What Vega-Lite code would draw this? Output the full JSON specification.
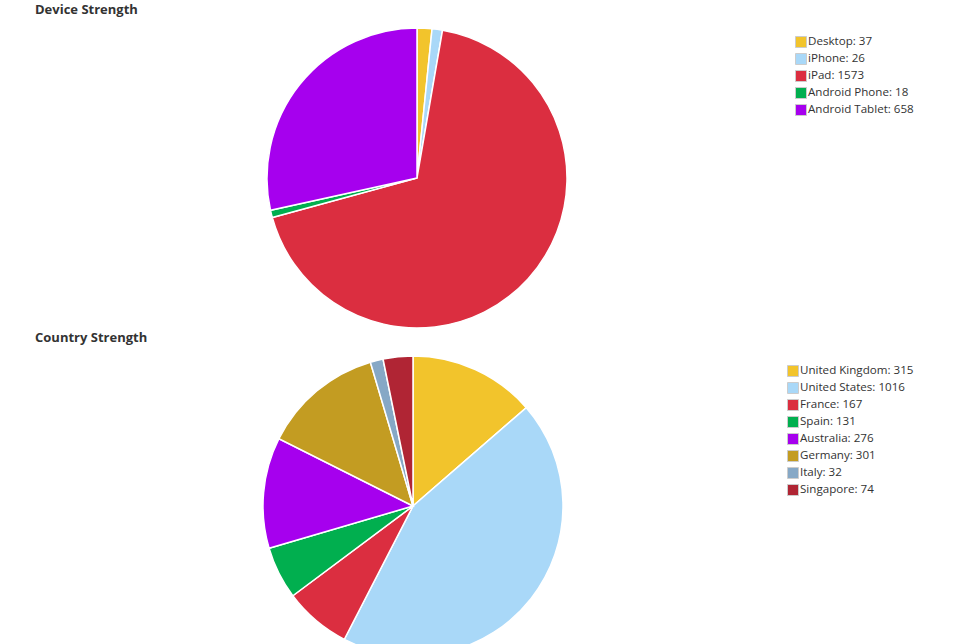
{
  "$schema": "https://vega.github.io/schema/vega-lite/v6.json",
  "padding": {"left": 35, "top": 4, "right": 0, "bottom": 0},
  "background": "white",
  "datasets": {
    "device": [
      {"name": "Desktop", "value": 37, "rank": 1},
      {"name": "iPhone", "value": 26, "rank": 2},
      {"name": "iPad", "value": 1573, "rank": 3},
      {"name": "Android Phone", "value": 18, "rank": 4},
      {"name": "Android Tablet", "value": 658, "rank": 5}
    ],
    "country": [
      {"name": "United Kingdom", "value": 315, "rank": 1},
      {"name": "United States", "value": 1016, "rank": 2},
      {"name": "France", "value": 167, "rank": 3},
      {"name": "Spain", "value": 131, "rank": 4},
      {"name": "Australia", "value": 276, "rank": 5},
      {"name": "Germany", "value": 301, "rank": 6},
      {"name": "Italy", "value": 32, "rank": 7},
      {"name": "Singapore", "value": 74, "rank": 8}
    ]
  },
  "config": {
    "view": {"stroke": null},
    "font": "Open Sans",
    "title": {"anchor": "start", "frame": "group", "offset": 8, "fontSize": 13, "font": "Open Sans", "fontWeight": "bold", "color": "#333333"},
    "legend": {
      "title": null,
      "symbolType": "square",
      "symbolSize": 121,
      "symbolStrokeColor": "#cccccc",
      "symbolStrokeWidth": 1,
      "symbolOpacity": 1,
      "labelFont": "Open Sans",
      "labelFontSize": 11.6,
      "labelColor": "#333333",
      "labelOffset": 1,
      "rowPadding": 1,
      "padding": 0,
      "labelLimit": 300
    }
  },
  "spacing": 1,
  "resolve": {"scale": {"color": "independent"}, "legend": {"color": "independent"}},
  "vconcat": [
    {
      "width": 764,
      "height": 300,
      "title": {"text": "Device Strength"},
      "data": {"name": "device"},
      "transform": [{"calculate": "datum.name + ': ' + datum.value", "as": "label"}],
      "mark": {"type": "arc", "radius": 150, "stroke": "white", "strokeWidth": 1.5},
      "encoding": {
        "theta": {"field": "value", "type": "quantitative", "stack": true},
        "order": {"field": "rank", "type": "quantitative"},
        "color": {
          "field": "label",
          "type": "nominal",
          "scale": {
            "domain": ["Desktop: 37", "iPhone: 26", "iPad: 1573", "Android Phone: 18", "Android Tablet: 658"],
            "range": ["#F2C42C", "#A9D8F8", "#DB2E40", "#01AF4F", "#A600EE"]
          },
          "legend": {
            "orient": "none", "legendX": 760, "legendY": 8,
            "symbolStrokeColor": "#cccccc", "symbolStrokeWidth": 1,
            "encode": {"symbols": {"update": {"stroke": {"value": "#cccccc"}, "strokeWidth": {"value": 1}}}}
          }
        }
      }
    },
    {
      "width": 756,
      "height": 300,
      "title": {"text": "Country Strength"},
      "data": {"name": "country"},
      "transform": [{"calculate": "datum.name + ': ' + datum.value", "as": "label"}],
      "mark": {"type": "arc", "radius": 150, "stroke": "white", "strokeWidth": 1.5},
      "encoding": {
        "theta": {"field": "value", "type": "quantitative", "stack": true},
        "order": {"field": "rank", "type": "quantitative"},
        "color": {
          "field": "label",
          "type": "nominal",
          "scale": {
            "domain": ["United Kingdom: 315", "United States: 1016", "France: 167", "Spain: 131", "Australia: 276", "Germany: 301", "Italy: 32", "Singapore: 74"],
            "range": ["#F2C42C", "#A9D8F8", "#DB2E40", "#01AF4F", "#A600EE", "#C39C22", "#86A8C6", "#B02534"]
          },
          "legend": {
            "orient": "none", "legendX": 752, "legendY": 9,
            "symbolStrokeColor": "#cccccc", "symbolStrokeWidth": 1,
            "encode": {"symbols": {"update": {"stroke": {"value": "#cccccc"}, "strokeWidth": {"value": 1}}}}
          }
        }
      }
    }
  ]
}
